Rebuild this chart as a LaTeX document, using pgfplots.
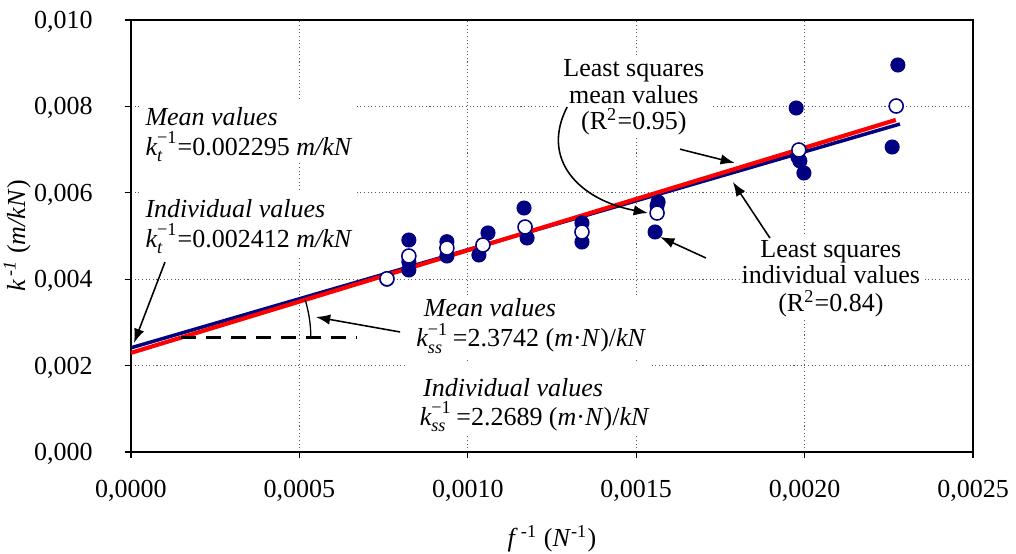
\documentclass[border=0pt]{standalone}
\usepackage{fontspec}
\setmainfont{Liberation Serif}
\usepackage{amsmath}
\usepackage{pgfplots}
\usepackage{pgfplotstable}
\pgfplotsset{compat=1.18}
\usetikzlibrary{arrows.meta}

\definecolor{navyblue}{RGB}{0,0,128}

% individual test results: inverse force vs inverse stiffness
\pgfplotstableread{
x        y
0.000760 0.004000
0.000825 0.004907
0.000825 0.004400
0.000825 0.004213
0.000938 0.004868
0.000938 0.004537
0.001060 0.005070
0.001033 0.004560
0.001167 0.005648
0.001176 0.004954
0.001339 0.005301
0.001339 0.004861
0.001565 0.005787
0.001562 0.005700
0.001556 0.005093
0.001975 0.007963
0.001980 0.006829
0.001986 0.006736
0.001998 0.006458
0.002277 0.008958
0.002260 0.007060
}\individual

% mean value for each load level
\pgfplotstableread{
x        y
0.000760 0.004010
0.000825 0.004537
0.000938 0.004722
0.001045 0.004792
0.001170 0.005208
0.001339 0.005093
0.001562 0.005532
0.001983 0.006991
0.002272 0.008009
}\means

\newcommand{\kt}{$\textit{k}_{\textit{t}}^{\text{−1}}$}
\newcommand{\kss}{$\textit{k}_{\textit{ss}}^{\text{−1}}$}

\begin{document}
\begin{tikzpicture}[>={Latex[length=5.5pt,width=4pt]}]
\begin{axis}[
  scale only axis, width=323.85pt, height=166.15pt,
  xmin=0, xmax=0.0025, ymin=0, ymax=0.010,
  clip=false,
  axis line style={black, line width=0.8pt},
  tick pos=left, tick align=outside, major tick length=2.4pt,
  tick style={black, line width=0.4pt},
  xtick={0,0.0005,0.001,0.0015,0.002,0.0025},
  ytick={0,0.002,0.004,0.006,0.008,0.010},
  scaled ticks=false,
  /pgf/number format/fixed,
  /pgf/number format/fixed zerofill,
  /pgf/number format/use comma,
  /pgf/number format/assume math mode=true,
  x tick label style={/pgf/number format/precision=4, anchor=base, yshift=-15pt},
  y tick label style={/pgf/number format/precision=3, anchor=base east, xshift=-8.8pt, yshift=-3.3pt},
  grid=major,
  major grid style={densely dotted, gray!70!black, line width=0.45pt},
  xlabel={\textit{f}\textsuperscript{\,-1} (\textit{N}\textsuperscript{-1})},
  ylabel={\textit{k}\textsuperscript{\,\textit{-1}} (\textit{m/kN})},
  xlabel style={at={(axis description cs:0.5,-0.2197)}, anchor=base},
  ylabel style={at={(axis description cs:-0.1352,0.5)}, anchor=center},
]

% white backgrounds of the text boxes
\fill[white] (axis cs:0.0000267,0.008148) rectangle (axis cs:0.000668,0.006713);
\fill[white] (axis cs:0.0000267,0.006019) rectangle (axis cs:0.000668,0.004560);
\fill[white] (axis cs:0.000814,0.003588) rectangle (axis cs:0.001535,0.002176);
\fill[white] (axis cs:0.000814,0.002040) rectangle (axis cs:0.001541,0.000370);
\fill[white] (axis cs:0.001268,0.009190) rectangle (axis cs:0.001725,0.007269);
\fill[white] (axis cs:0.001808,0.005000) rectangle (axis cs:0.002357,0.003056);

% data points
\addplot[only marks, mark=*, mark size=2.7pt, draw=navyblue, fill=navyblue] table[x=x,y=y] {\individual};
\addplot[only marks, mark=*, mark size=2.7pt, draw=navyblue, fill=white, line width=0.6pt] table[x=x,y=y] {\means};

% least squares fits
\addplot[navyblue, line width=1.35pt] coordinates {(0,0.002412) (0.002283,0.007592)};
\addplot[red, line width=1.6pt] coordinates {(0,0.002295) (0.002271,0.007687)};

% slope indicator
\draw[black, line width=1.2pt, dash pattern=on 5.8pt off 3.8pt] (axis cs:0.000148,0.002646) -- (axis cs:0.000671,0.002646);
\draw[black, line width=0.5pt] ([xshift=50pt]axis cs:0.000148,0.002646) arc[start angle=0, end angle=16.9, radius=50pt];

% annotations
\node[anchor=base west, inner sep=0pt] at (axis cs:0.0000416,0.007569) {\textit{Mean values}};
\node[anchor=base west, inner sep=0pt] at (axis cs:0.0000416,0.006875) {\kt=0.002295 \textit{m/kN}};
\node[anchor=base west, inner sep=0pt] at (axis cs:0.0000416,0.005417) {\textit{Individual values}};
\node[anchor=base west, inner sep=0pt] at (axis cs:0.0000416,0.004745) {\kt=0.002412 \textit{m/kN}};

\node[anchor=base west, inner sep=0pt] at (axis cs:0.000868,0.003127) {\textit{Mean values}};
\node[anchor=base west, inner sep=0pt] at (axis cs:0.000846,0.002433) {\kss\,=2.3742 (\textit{m}·\textit{N})/\textit{kN}};
\node[anchor=base west, inner sep=0pt] at (axis cs:0.000866,0.001292) {\textit{Individual values}};
\node[anchor=base west, inner sep=0pt] at (axis cs:0.000856,0.000620) {\kss\,=2.2689 (\textit{m}·\textit{N})/\textit{kN}};

\node[anchor=base, inner sep=0pt] at (axis cs:0.001493,0.008681) {Least squares};
\node[anchor=base, inner sep=0pt] at (axis cs:0.001493,0.008072) {mean values};
\node[anchor=base, inner sep=0pt] at (axis cs:0.001493,0.007454) {(R\textsuperscript{2}=0.95)};

\node[anchor=base, inner sep=0pt] at (axis cs:0.002078,0.004491) {Least squares};
\node[anchor=base, inner sep=0pt] at (axis cs:0.002078,0.003889) {individual values};
\node[anchor=base, inner sep=0pt] at (axis cs:0.002078,0.003241) {(R\textsuperscript{2}=0.84)};

% arrows
\draw[->, line width=0.6pt] (axis cs:0.001295,0.007986) .. controls (axis cs:0.001214,0.006759) and (axis cs:0.001333,0.005833) .. (axis cs:0.001535,0.005532);
\draw[->, line width=0.6pt] (axis cs:0.001630,0.007010) -- (axis cs:0.001793,0.006690);
\draw[->, line width=0.6pt] (axis cs:0.001897,0.004954) -- (axis cs:0.001787,0.006250);
\draw[->, line width=0.6pt] (axis cs:0.001707,0.004491) -- (axis cs:0.001571,0.004977);
\draw[->, line width=0.6pt] (axis cs:0.000101,0.004398) -- (axis cs:0.0000089,0.002523);
\draw[->, line width=0.6pt] (axis cs:0.000799,0.002778) -- (axis cs:0.000549,0.003125);
\end{axis}
\pgfresetboundingbox
\path ([shift={(-50.38pt,-38.85pt)}]current axis.south west) rectangle ([shift={(16.54pt,7.69pt)}]current axis.north east);
\end{tikzpicture}
\end{document}
